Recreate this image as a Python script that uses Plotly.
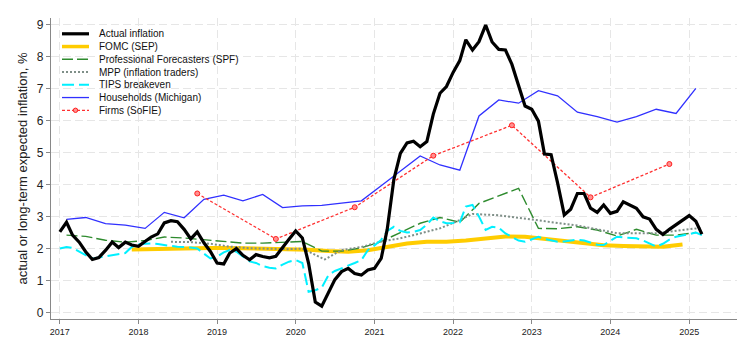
import plotly.graph_objects as go
import pandas as pd

# ---------------- data ----------------
month_dates = pd.date_range("2017-01-01", "2025-03-01", freq="MS")
actual_inflation = [
    2.52, 2.82, 2.42, 2.20, 1.90, 1.66, 1.72, 1.94, 2.20, 2.03, 2.20, 2.11,
    2.07, 2.21, 2.36, 2.46, 2.80, 2.87, 2.84, 2.60, 2.30, 2.52, 2.18, 1.91,
    1.55, 1.52, 1.86, 2.00, 1.79, 1.65, 1.81, 1.75, 1.71, 1.76, 2.05, 2.29,
    2.55, 2.33, 1.54, 0.33, 0.20, 0.65, 1.03, 1.28, 1.38, 1.22, 1.17, 1.33,
    1.38, 1.69, 2.60, 4.16, 4.97, 5.30, 5.35, 5.18, 5.34, 6.20, 6.85, 7.06,
    7.50, 7.87, 8.52, 8.20, 8.46, 8.98, 8.45, 8.22, 8.20, 7.75, 7.10, 6.45,
    6.35, 5.98, 4.95, 4.93, 4.05, 3.05, 3.23, 3.72, 3.72, 3.26, 3.13, 3.36,
    3.10, 3.16, 3.46, 3.36, 3.26, 2.99, 2.92, 2.60, 2.44, 2.60, 2.75, 2.91,
    3.03, 2.85, 2.45,
]
tips_breakeven = [
    2.00, 2.05, 2.02, 1.90, 1.80, 1.68, 1.72, 1.75, 1.78, 1.82, 1.86, 2.05,
    2.13, 2.15, 2.16, 2.14, 2.10, 2.08, 2.06, 2.05, 2.03, 2.00, 1.85, 1.69,
    1.75, 1.88, 1.95, 1.90, 1.75, 1.60, 1.55, 1.45, 1.40, 1.38, 1.50, 1.59,
    1.64, 1.55, 0.65, 0.70, 0.78, 1.17, 1.30, 1.38, 1.45, 1.55, 1.64, 1.95,
    2.10, 2.27, 2.55, 2.68, 2.55, 2.50, 2.52, 2.58, 2.75, 2.97, 2.85, 2.79,
    2.80, 2.82, 3.31, 3.36, 3.00, 2.58, 2.68, 2.65, 2.47, 2.35, 2.25, 2.21,
    2.30, 2.37, 2.30, 2.25, 2.21, 2.22, 2.25, 2.28, 2.25, 2.18, 2.12, 2.11,
    2.25, 2.37, 2.35, 2.33, 2.32, 2.25, 2.15, 2.06, 2.15, 2.28, 2.37, 2.40,
    2.45, 2.50, 2.42,
]

survey_dates = pd.date_range("2017-02-01", "2025-02-01", freq="3MS")
households_michigan = [
    2.91, 2.97, 2.78, 2.73, 2.63, 3.13, 2.96, 3.54, 3.67, 3.49, 3.69, 3.28,
    3.33, 3.35, 3.42, 3.49, 3.96, 4.43, 4.89, 4.61, 4.45, 6.14, 6.64, 6.54,
    6.93, 6.77, 6.26, 6.12, 5.95, 6.12, 6.35, 6.22, 7.00,
]
professional_spf = [
    2.42, 2.38, 2.26, 2.20, 2.25, 2.36, 2.33, 2.28, 2.22, 2.17, 2.17, 2.19,
    2.22, 1.92, 1.92, 2.02, 2.22, 2.50, 2.79, 2.97, 2.82, 3.41, 3.65, 3.88,
    2.63, 2.62, 2.68, 2.58, 2.39, 2.60, 2.42, 2.42, 2.50,
]

sep_dates = pd.date_range("2017-12-01", "2024-12-01", freq="3MS")
fomc_sep = [
    1.97, 1.99, 2.01, 2.02, 2.02, 2.02, 2.01, 2.00, 1.99, 1.96, 1.92, 1.90,
    1.95, 2.06, 2.16, 2.21, 2.21, 2.25, 2.31, 2.38, 2.37, 2.30, 2.24, 2.17,
    2.10, 2.08, 2.07, 2.06, 2.13,
]

mpp_dates = [
    "2018-06-01", "2018-09-01", "2018-12-01", "2019-03-01", "2019-06-01",
    "2019-09-01", "2019-12-01", "2020-02-01", "2020-05-15", "2020-08-01",
    "2020-11-01", "2021-02-01", "2021-05-01", "2021-08-01", "2021-11-01",
    "2022-02-01", "2022-04-01", "2022-08-01", "2023-02-01", "2023-08-01",
    "2024-02-01", "2024-08-01", "2025-03-01",
]
mpp_traders = [
    2.21, 2.20, 2.15, 2.06, 2.01, 1.99, 1.98, 2.00, 1.66, 1.95,
    2.05, 2.22, 2.32, 2.47, 2.63, 2.89, 3.08, 3.04, 2.89, 2.72,
    2.48, 2.48, 2.65,
]

sofie_dates = pd.date_range("2018-10-01", "2024-10-01", freq="12MS")
firms_sofie = [3.72, 2.30, 3.29, 4.90, 5.85, 3.60, 4.64]

legend_labels = [
    "Actual inflation", "FOMC (SEP)", "Professional Forecasters (SPF)",
    "MPP (inflation traders)", "TIPS breakeven", "Households (Michigan)",
    "Firms (SoFIE)",
]
year_ticks = list(range(2017, 2026))
y_ticks = list(range(0, 10))

# ---------------- styles ----------------
FONT = "Arial, Liberation Sans, sans-serif"
styles = {
    "Actual inflation": dict(color="#000000", width=3.2, dash="solid"),
    "FOMC (SEP)": dict(color="#FFCC00", width=4, dash="solid"),
    "Professional Forecasters (SPF)": dict(color="#2E8B2E", width=1.4, dash="11px,4px"),
    "MPP (inflation traders)": dict(color="#7F8F88", width=2, dash="2px,2px"),
    "TIPS breakeven": dict(color="#00F0FF", width=2, dash="12px,5px"),
    "Households (Michigan)": dict(color="#3030FF", width=1.3, dash="solid"),
    "Firms (SoFIE)": dict(color="#FF3030", width=1.3, dash="3px,2px"),
}

series = {
    "FOMC (SEP)": (sep_dates, fomc_sep),
    "Professional Forecasters (SPF)": (survey_dates, professional_spf),
    "MPP (inflation traders)": (pd.to_datetime(mpp_dates), mpp_traders),
    "TIPS breakeven": (month_dates, tips_breakeven),
    "Households (Michigan)": (survey_dates, households_michigan),
    "Firms (SoFIE)": (sofie_dates, firms_sofie),
    "Actual inflation": (month_dates, actual_inflation),
}

fig = go.Figure()
for name, (xs, ys) in series.items():
    st = styles[name]
    mode = "lines+markers" if name == "Firms (SoFIE)" else "lines"
    fig.add_trace(go.Scatter(
        x=xs, y=ys, name=name, mode=mode, showlegend=False,
        line=dict(color=st["color"], width=st["width"], dash=st["dash"]),
        marker=dict(size=5, color="#FF9090", line=dict(color="#FF2020", width=1)),
    ))

# ---------------- layout geometry (pixels) ----------------
W, H = 756, 354
L, R, T, B = 51, 19, 18, 35
PW, PH = W - L - R, H - T - B


def px(x, y):
    return (x - L) / PW, (H - B - y) / PH


# manual compact legend
shapes = []
annotations = []
for i, lab in enumerate(legend_labels):
    yc = 33.8 + i * 12.75
    st = styles[lab]
    x0, yy = px(62, yc)
    x1, _ = px(89, yc)
    shapes.append(dict(type="line", xref="paper", yref="paper", x0=x0, x1=x1, y0=yy, y1=yy,
                       line=dict(color=st["color"], width=min(st["width"], 3.5), dash=st["dash"]),
                       layer="above"))
    if lab == "Firms (SoFIE)":
        cx, cy = px(75.5, yc)
        rx, ry = 2.2 / PW, 2.2 / PH
        shapes.append(dict(type="circle", xref="paper", yref="paper",
                           x0=cx - rx, x1=cx + rx, y0=cy - ry, y1=cy + ry,
                           fillcolor="#FF9090", line=dict(color="#FF2020", width=1), layer="above"))
    tx, ty = px(97, yc)
    annotations.append(dict(text=lab, xref="paper", yref="paper", x=tx, y=ty,
                            xanchor="left", yanchor="middle", showarrow=False,
                            font=dict(family=FONT, size=10, color="#111111")))

fig.update_layout(
    width=W, height=H,
    margin=dict(l=L, r=R, t=T, b=B),
    paper_bgcolor="white", plot_bgcolor="white",
    font=dict(family=FONT, color="#222222"),
    shapes=shapes, annotations=annotations,
    showlegend=False,
)
fig.update_xaxes(
    type="date",
    range=["2016-11-21", "2025-08-11"],
    tickvals=[f"{y}-01-01" for y in year_ticks],
    ticktext=[str(y) for y in year_ticks],
    tickfont=dict(size=9, family=FONT, color="#222222"),
    ticks="outside", ticklen=4, tickcolor="#888888",
    showline=True, linecolor="#888888", linewidth=1.3,
    showgrid=True, gridcolor="#E6E6E6", gridwidth=1, griddash="8px,4px",
    zeroline=False,
)
fig.update_yaxes(
    range=[-0.2, 9.2],
    tickvals=y_ticks,
    tickfont=dict(size=12, family=FONT, color="#222222"),
    ticks="outside", ticklen=4, tickcolor="#888888",
    showline=True, linecolor="#888888", linewidth=1.3,
    showgrid=True, gridcolor="#E6E6E6", gridwidth=1, griddash="8px,4px",
    zeroline=False,
    title=dict(text="actual or long-term expected inflation, %",
               font=dict(size=13, family=FONT, color="#222222"), standoff=6),
)

fig.write_html("out.html")
